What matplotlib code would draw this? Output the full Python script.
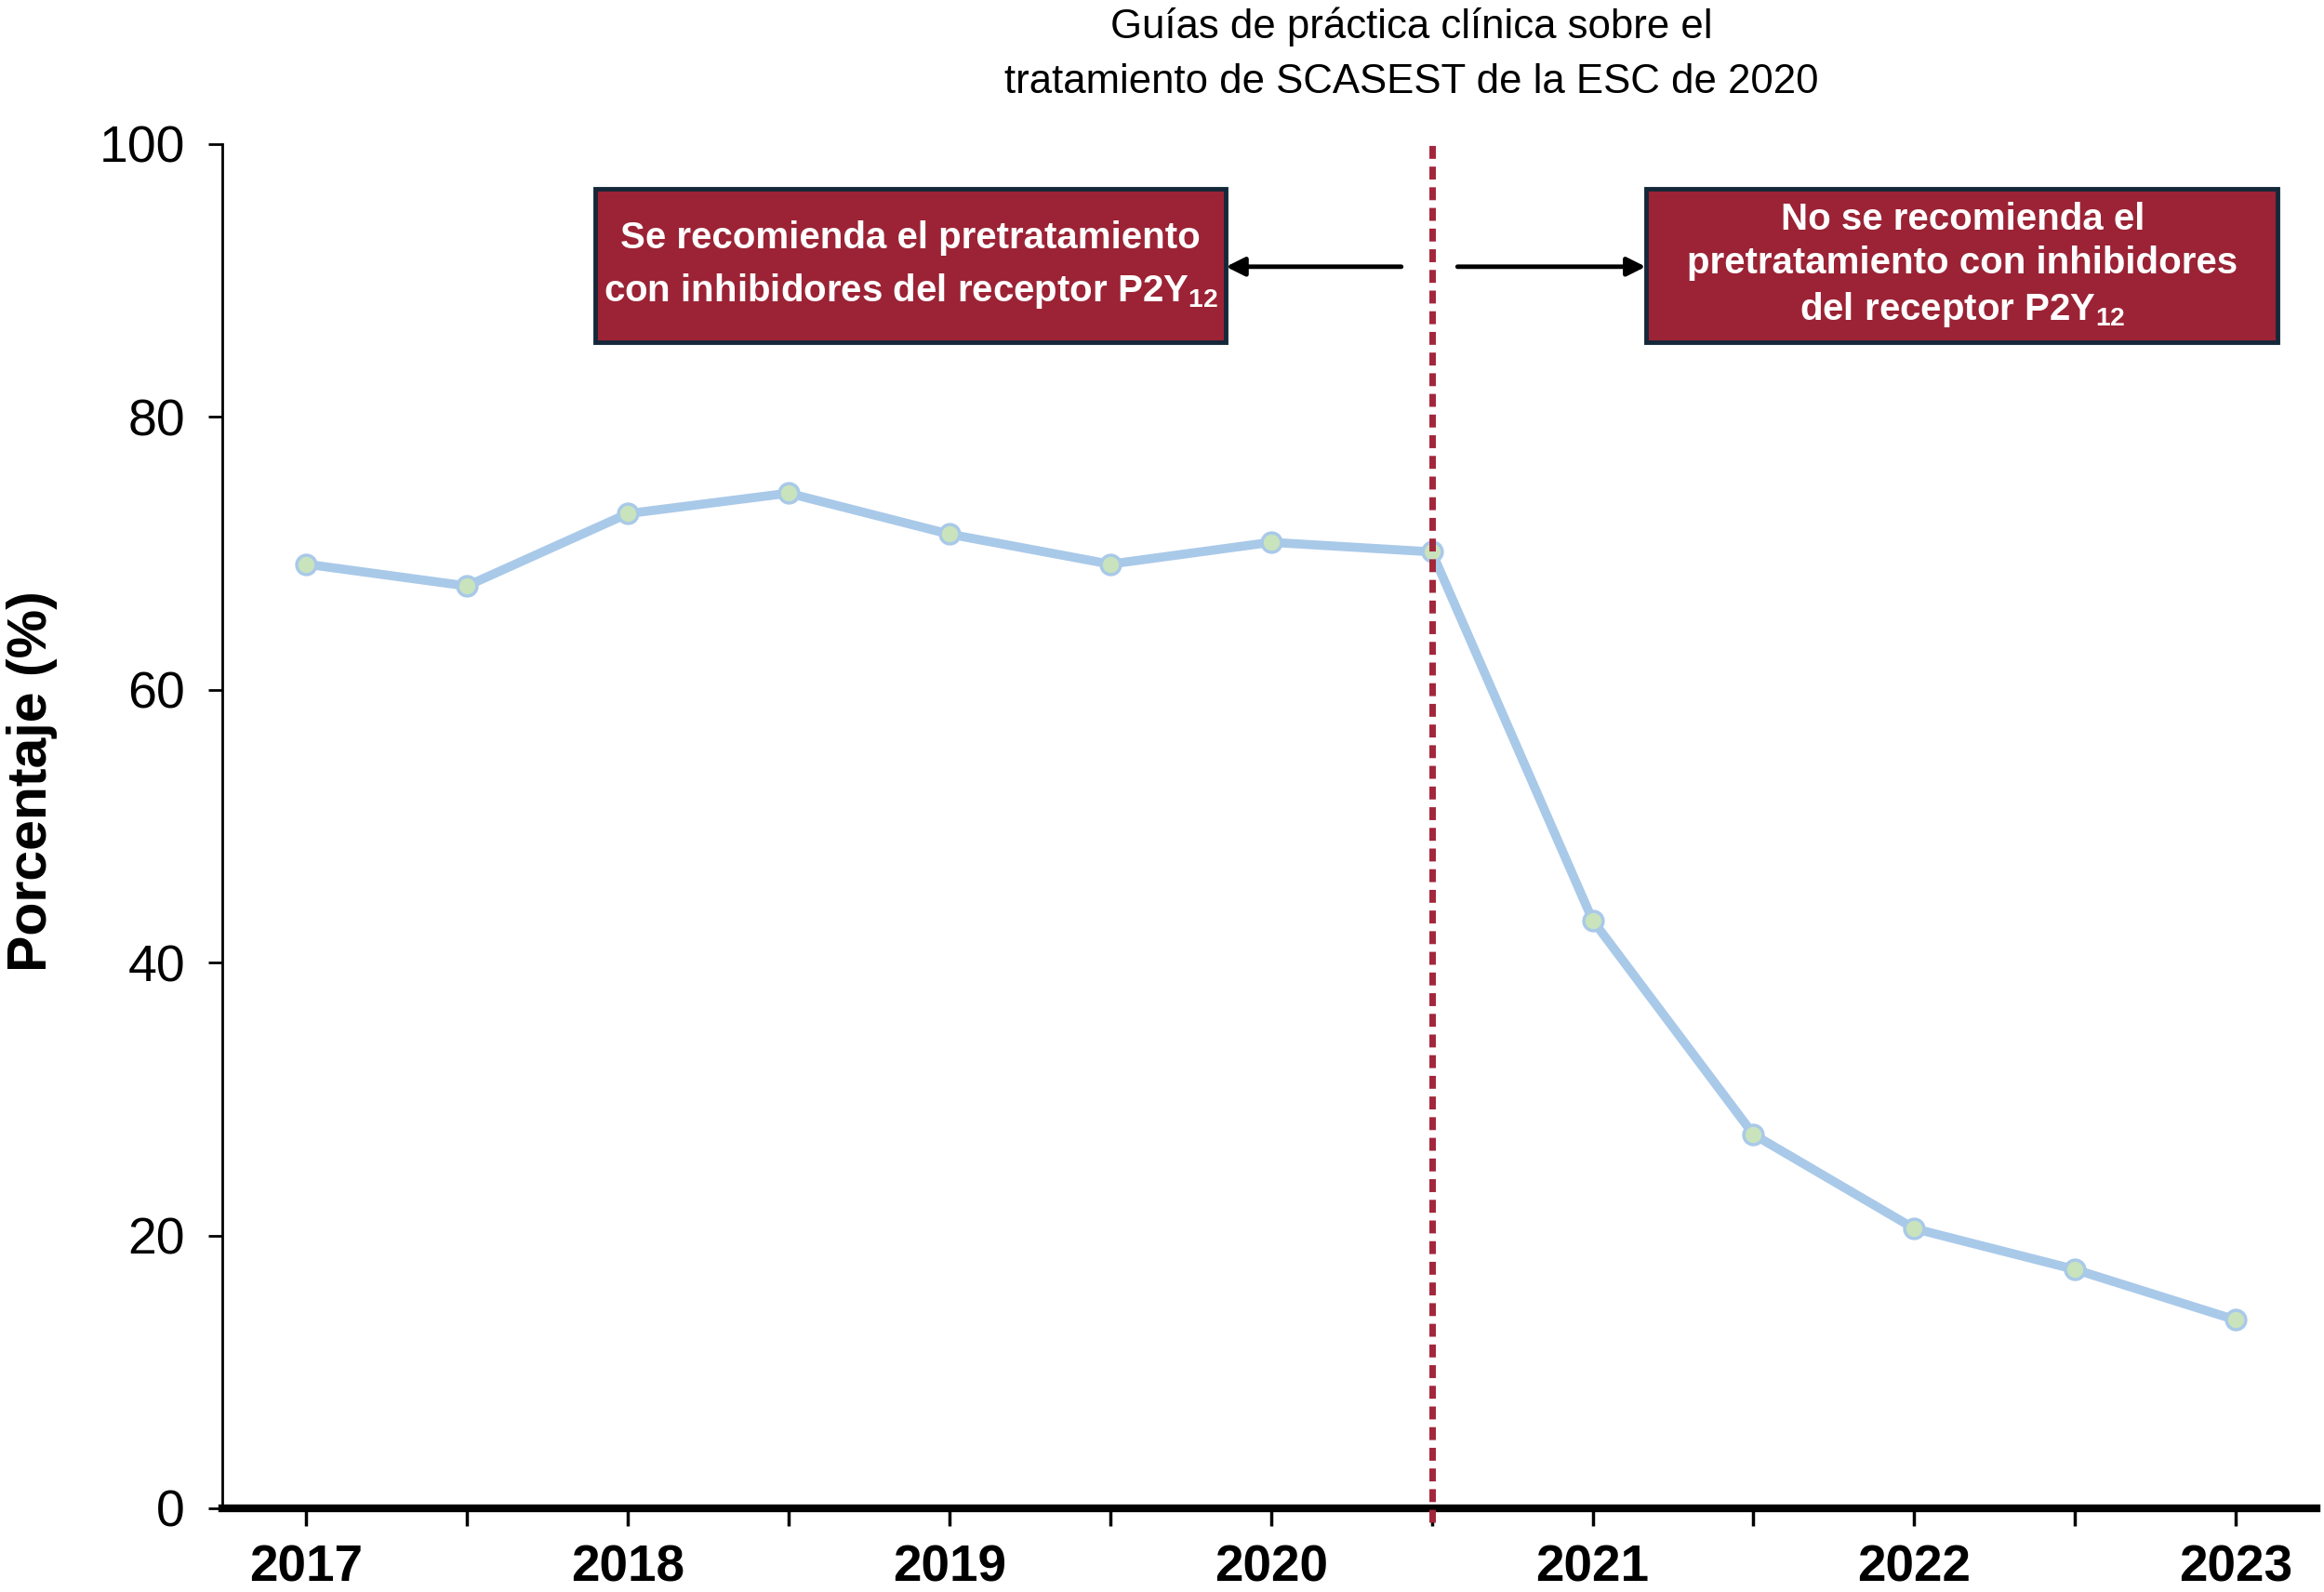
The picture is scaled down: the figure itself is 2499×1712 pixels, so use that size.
import matplotlib
matplotlib.use('Agg')
import matplotlib.pyplot as plt
from matplotlib.patches import Rectangle

plt.rcParams['font.family'] = ['Liberation Sans', 'DejaVu Sans']
plt.rcParams['mathtext.fontset'] = 'custom'
plt.rcParams['mathtext.rm'] = 'Liberation Sans:bold'
plt.rcParams['mathtext.bf'] = 'Liberation Sans:bold'
plt.rcParams['mathtext.default'] = 'bf'

# half-year points, 2017 to 2023
periods = list(range(13))
values = [69.2, 67.6, 72.9, 74.4, 71.4, 69.2, 70.8, 70.1, 43.1, 27.4, 20.5, 17.5, 13.8]
year_labels = ['2017', '', '2018', '', '2019', '', '2020', '', '2021', '', '2022', '', '2023']
y_ticks = [0, 20, 40, 60, 80, 100]

guideline_pos = 7
title_text = 'Guías de práctica clínica sobre el\ntratamiento de SCASEST de la ESC de 2020'
left_text = 'Se recomienda el pretratamiento\ncon inhibidores del receptor P2Y$_{12}$'
right_text = 'No se recomienda el\npretratamiento con inhibidores\ndel receptor P2Y$_{12}$'

line_color = '#a9c9e9'
marker_color = '#c9e3bd'
red = '#a3263b'
box_color = '#9b2335'
box_edge = '#15283a'

fig = plt.figure(figsize=(24.99, 17.12), dpi=100)
ax = fig.add_axes([0.0957, 0.0526, 0.901, 0.857])

ax.plot(periods, values, color=line_color, lw=7, marker='o', ms=15,
        markerfacecolor=marker_color, markeredgecolor=line_color, markeredgewidth=2.5, zorder=3)

# guideline line
ax.plot([guideline_pos, guideline_pos], [-1.0, 100], color=red, lw=5,
        linestyle=(0, (2, 1.2)), clip_on=False, zorder=4)

ax.set_xlim(-0.52, 12.5)
ax.set_ylim(0, 100)
ax.set_xticks(periods)
ax.set_xticklabels(year_labels, fontsize=39.5, fontweight='bold')
ax.set_yticks(y_ticks)
ax.set_yticklabels([str(v) for v in y_ticks], fontsize=40)
ax.tick_params(axis='x', length=14, width=2.5, pad=14)
ax.tick_params(axis='y', length=11, width=2, pad=18)
ax.set_ylabel('Porcentaje (%)', fontsize=42.5, fontweight='bold')
ax.yaxis.set_label_coords(-0.0785, 0.533)

for s in ['top', 'right']:
    ax.spines[s].set_visible(False)
ax.spines['left'].set_linewidth(2)
ax.spines['bottom'].set_linewidth(6)

# boxes with recommendations
ax.add_patch(Rectangle((1.80, 85.5), 3.92, 11.2, facecolor=box_color, edgecolor=box_edge,
                       lw=3.5, zorder=5))
ax.add_patch(Rectangle((8.33, 85.5), 3.93, 11.2, facecolor=box_color, edgecolor=box_edge,
                       lw=3.5, zorder=5))
ax.text(3.76, 91.1, left_text, ha='center', va='center', fontsize=29, color='white',
        fontweight='bold', linespacing=1.55, zorder=6)
ax.text(10.3, 91.1, right_text, ha='center', va='center', fontsize=29, color='white',
        fontweight='bold', linespacing=1.3, zorder=6)

ax.annotate('', xy=(5.72, 91.0), xytext=(6.81, 91.0),
            arrowprops=dict(arrowstyle='-|>', color='black', lw=3.5, mutation_scale=30,
                            shrinkA=0, shrinkB=0))
ax.annotate('', xy=(8.33, 91.0), xytext=(7.16, 91.0),
            arrowprops=dict(arrowstyle='-|>', color='black', lw=3.5, mutation_scale=30,
                            shrinkA=0, shrinkB=0))

fig.text(0.6075, 0.966, title_text, ha='center', va='center', fontsize=31.5, linespacing=1.55)

fig.savefig('out.png', dpi=100)
